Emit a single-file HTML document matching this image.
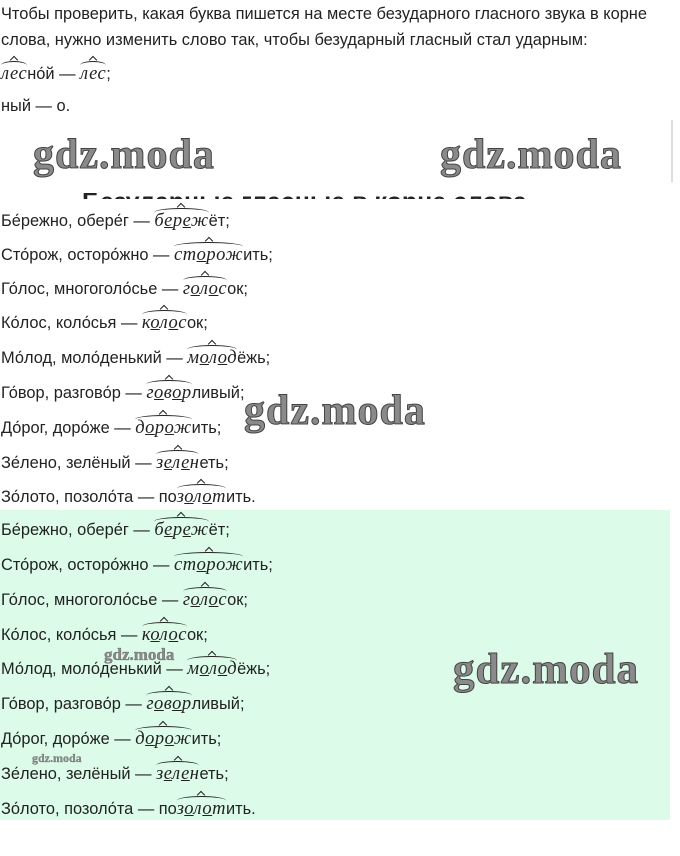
<!DOCTYPE html>
<html><head><meta charset="utf-8"><style>
body{margin:0;width:680px;height:856px;background:#fff;position:relative;overflow:hidden;font-family:"Liberation Sans","DejaVu Sans",sans-serif;font-size:16.4px;color:#222}
.l{position:absolute;left:1px;white-space:nowrap;line-height:18px}
.r{font-family:"Liberation Serif",serif;font-style:italic;position:relative;display:inline-block;font-size:18.5px;letter-spacing:0.5px}
.r:before{content:"";position:absolute;left:0;right:0;top:-4px;height:8px;border-top:1.6px solid #222;border-radius:50% 50% 0 0}
.r:after{content:"";position:absolute;left:50%;top:-8px;width:5px;height:5px;margin-left:-3px;border-left:1.6px solid #222;border-top:1.6px solid #222;transform:rotate(45deg)}
.wm{position:absolute;font-family:"Liberation Serif",serif;font-weight:bold;color:#8a8a8a;-webkit-text-stroke:1px #444;letter-spacing:1px;white-space:nowrap;line-height:1}
.green{position:absolute;left:0;top:510px;width:670px;height:310px;background:#dcfce9}
u{text-decoration:underline}
</style></head><body>
<div class="l" style="top:5px">Чтобы проверить, какая буква пишется на месте безударного гласного звука в корне</div>
<div class="l" style="top:31px">слова, нужно изменить слово так, чтобы безударный гласный стал ударным:</div>
<div class="l" style="top:65px"><span class="r">лес</span>но́й — <span class="r">лес</span>;</div>
<div class="l" style="top:97px">ный — о.</div>
<div class="wm" style="left:33px;top:134px;font-size:42px">gdz.moda</div>
<div class="wm" style="left:440px;top:134px;font-size:42px">gdz.moda</div>
<div style="position:absolute;left:671px;top:120px;width:2px;height:62px;background:#ddd"></div>
<div style="position:absolute;left:82px;top:193px;height:6px;overflow:hidden;font-weight:bold;font-size:25px;line-height:30px;white-space:nowrap"><div style="margin-top:-6px">Безударные гласные в корне слова</div></div>

<div class="l" style="top:212px">Бе́режно, обере́г — <span class="r">б<u>е</u>р<u>е</u>ж</span>ёт;</div>
<div class="l" style="top:246px">Сто́рож, осторо́жно — <span class="r">ст<u>о</u>рож</span>ить;</div>
<div class="l" style="top:280px">Го́лос, многоголо́сье — <span class="r">г<u>о</u>л<u>о</u>с</span>ок;</div>
<div class="l" style="top:314px">Ко́лос, коло́сья — <span class="r">к<u>о</u>л<u>о</u>с</span>ок;</div>
<div class="l" style="top:349px">Мо́лод, моло́денький — <span class="r">м<u>о</u>л<u>о</u>д</span>ёжь;</div>
<div class="l" style="top:384px">Го́вор, разгово́р — <span class="r">г<u>о</u>в<u>о</u>р</span>ливый;</div>
<div class="l" style="top:419px">До́рог, доро́же — <span class="r">д<u>о</u>р<u>о</u>ж</span>ить;</div>
<div class="l" style="top:454px">Зе́лено, зелёный — <span class="r">з<u>е</u>л<u>е</u>н</span>еть;</div>
<div class="l" style="top:488px">Зо́лото, позоло́та — по<span class="r">з<u>о</u>л<u>о</u>т</span>ить.</div>
<div class="wm" style="left:244px;top:390px;font-size:42px">gdz.moda</div>

<div class="green"></div>
<div class="l" style="top:521px">Бе́режно, обере́г — <span class="r">б<u>е</u>р<u>е</u>ж</span>ёт;</div>
<div class="l" style="top:556px">Сто́рож, осторо́жно — <span class="r">ст<u>о</u>рож</span>ить;</div>
<div class="l" style="top:591px">Го́лос, многоголо́сье — <span class="r">г<u>о</u>л<u>о</u>с</span>ок;</div>
<div class="l" style="top:626px">Ко́лос, коло́сья — <span class="r">к<u>о</u>л<u>о</u>с</span>ок;</div>
<div class="l" style="top:660px">Мо́лод, моло́денький — <span class="r">м<u>о</u>л<u>о</u>д</span>ёжь;</div>
<div class="l" style="top:695px">Го́вор, разгово́р — <span class="r">г<u>о</u>в<u>о</u>р</span>ливый;</div>
<div class="l" style="top:730px">До́рог, доро́же — <span class="r">д<u>о</u>р<u>о</u>ж</span>ить;</div>
<div class="l" style="top:765px">Зе́лено, зелёный — <span class="r">з<u>е</u>л<u>е</u>н</span>еть;</div>
<div class="l" style="top:800px">Зо́лото, позоло́та — по<span class="r">з<u>о</u>л<u>о</u>т</span>ить.</div>
<div class="wm" style="left:104px;top:646px;font-size:17px;-webkit-text-stroke:0.3px #555;letter-spacing:0">gdz.moda</div>
<div class="wm" style="left:32px;top:752px;font-size:12px;-webkit-text-stroke:0.2px #555;letter-spacing:0">gdz.moda</div>
<div class="wm" style="left:453px;top:648px;font-size:43px">gdz.moda</div>
</body></html>
